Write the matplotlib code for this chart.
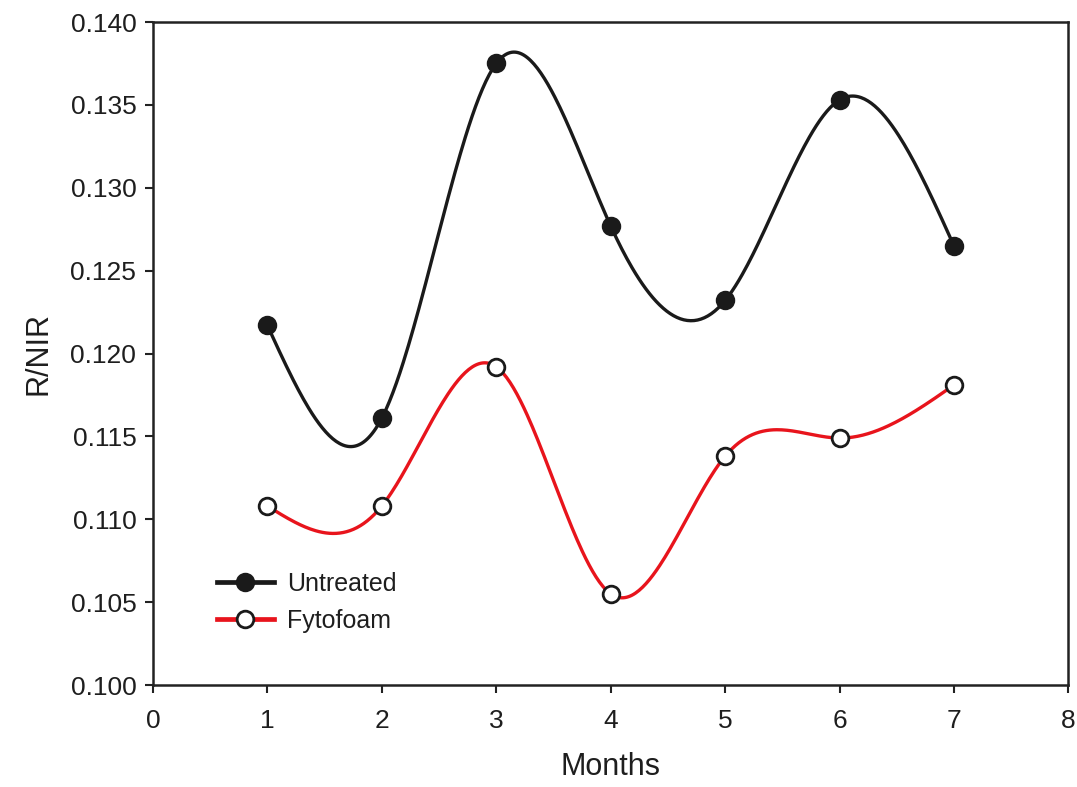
import numpy as np
import matplotlib
matplotlib.use("Agg")
import matplotlib.pyplot as plt

months = [1, 2, 3, 4, 5, 6, 7]
untreated = [0.1217, 0.1161, 0.1375, 0.1277, 0.1232, 0.1353, 0.1265]
fytofoam = [0.1108, 0.1108, 0.1192, 0.1055, 0.1138, 0.1149, 0.1181]
xticks = [0, 1, 2, 3, 4, 5, 6, 7, 8]
yticks = [0.100, 0.105, 0.110, 0.115, 0.120, 0.125, 0.130, 0.135, 0.140]


def natural_spline(x, y, n=400):
    x = np.asarray(x, float)
    y = np.asarray(y, float)
    k = len(x)
    h = np.diff(x)
    A = np.zeros((k, k))
    b = np.zeros(k)
    A[0, 0] = 1
    A[-1, -1] = 1
    for i in range(1, k - 1):
        A[i, i - 1] = h[i - 1]
        A[i, i] = 2 * (h[i - 1] + h[i])
        A[i, i + 1] = h[i]
        b[i] = 6 * ((y[i + 1] - y[i]) / h[i] - (y[i] - y[i - 1]) / h[i - 1])
    M = np.linalg.solve(A, b)
    xs = np.linspace(x[0], x[-1], n)
    idx = np.clip(np.searchsorted(x, xs) - 1, 0, k - 2)
    x0, x1 = x[idx], x[idx + 1]
    hh = x1 - x0
    t0 = x1 - xs
    t1 = xs - x0
    ys = (M[idx] * t0 ** 3 / (6 * hh) + M[idx + 1] * t1 ** 3 / (6 * hh)
          + (y[idx] / hh - M[idx] * hh / 6) * t0
          + (y[idx + 1] / hh - M[idx + 1] * hh / 6) * t1)
    return xs, ys


plt.rcParams['font.family'] = ['Liberation Sans', 'DejaVu Sans']

fig = plt.figure(figsize=(10.77, 7.87), dpi=100)
ax = fig.add_axes([0.142, 0.1296, 0.850, 0.8424])

lw = 2.4
ms = 12
for vals, color, face, label in [(untreated, '#1a1a1a', '#1a1a1a', 'Untreated'),
                                  (fytofoam, '#e8141c', 'white', 'Fytofoam')]:
    xs, ys = natural_spline(months, vals)
    ax.plot(xs, ys, color=color, lw=lw, zorder=2)
    ax.plot(months, vals, linestyle='none', marker='o', ms=ms,
            markerfacecolor=face, markeredgecolor='#1a1a1a', markeredgewidth=2, zorder=3)
    ax.plot([], [], color=color, lw=lw + 1, marker='o', ms=ms,
            markerfacecolor=face, markeredgecolor='#1a1a1a', markeredgewidth=2, label=label)

ax.set_xlim(0, 8)
ax.set_ylim(0.100, 0.140)
ax.set_xticks(xticks)
ax.set_xticklabels([str(v) for v in xticks])
ax.set_yticks(yticks)
ax.set_yticklabels([f"{v:.3f}" for v in yticks])
ax.tick_params(axis='both', direction='out', length=6, width=1.5, labelsize=19,
               color='#222222', labelcolor='#1e1e1e', pad=6)
ax.tick_params(axis='x', pad=11)
for s in ax.spines.values():
    s.set_linewidth(1.8)
    s.set_color('#222222')

ax.set_xlabel('Months', fontsize=22, color='#1e1e1e', labelpad=14)
ax.set_ylabel('R/NIR', fontsize=22, color='#1e1e1e', labelpad=12)

leg = ax.legend(loc='lower left', bbox_to_anchor=(0.045, 0.045), frameon=False,
                fontsize=18, handlelength=2.3, handletextpad=0.5, labelspacing=0.5)
for t in leg.get_texts():
    t.set_color('#1e1e1e')

fig.savefig('out.png', dpi=100)
